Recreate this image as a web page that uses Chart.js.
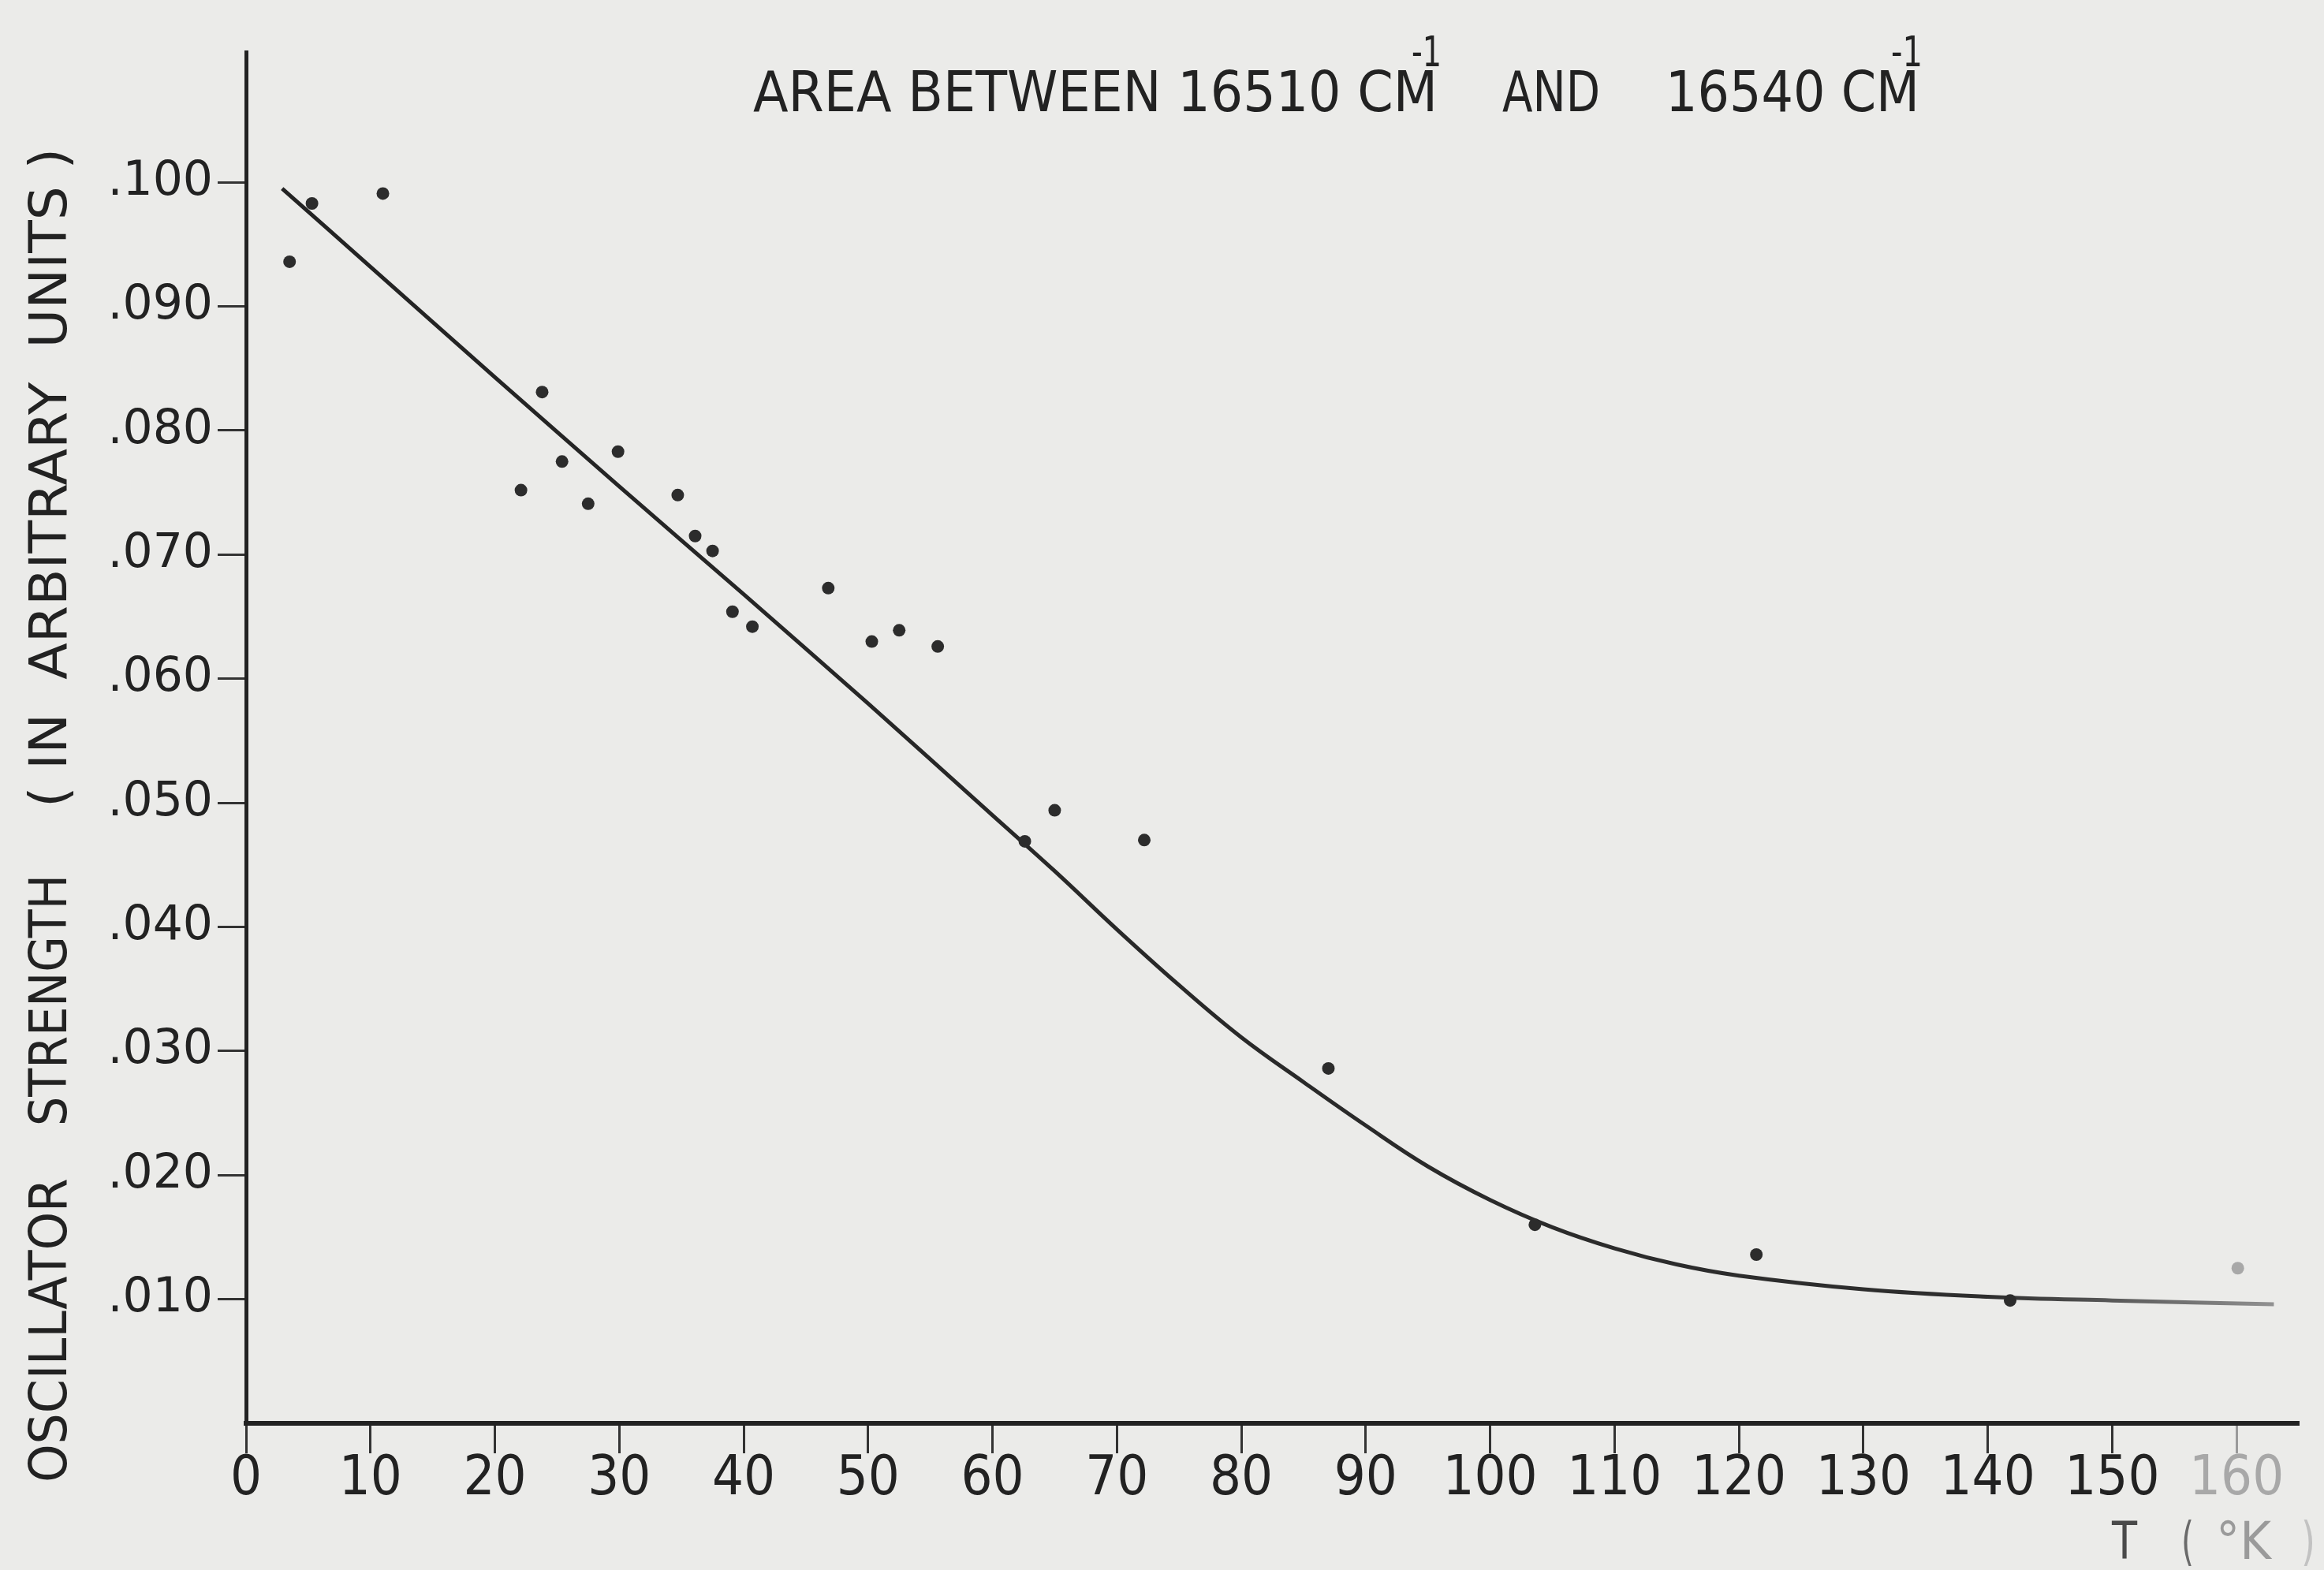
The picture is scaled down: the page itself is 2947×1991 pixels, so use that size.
<!DOCTYPE html>
<html><head><meta charset="utf-8">
<script src="https://cdn.jsdelivr.net/npm/chart.js@4.4.1/dist/chart.umd.min.js"></script>
<style>html,body{margin:0;padding:0;background:#ebebe9;overflow:hidden}#wrap{width:2947px;height:1991px}</style>
</head><body><div id="wrap"><canvas id="c" width="2947" height="1991"></canvas></div>
<script>
// Measured points: temperature (K) and oscillator strength (arbitrary units)
const temperatures = [3.5, 5.3, 11.0, 22.1, 23.8, 25.4, 27.5, 29.9, 34.7, 36.1, 37.5, 39.1, 40.7, 46.8, 50.3, 52.5, 55.6, 62.6, 65.0, 72.2, 87.0, 103.6, 121.4, 141.8, 160.1];
const strengths    = [0.0936, 0.0983, 0.0991, 0.0752, 0.0831, 0.0775, 0.0741, 0.0783, 0.0748, 0.0715, 0.0703, 0.0654, 0.0642, 0.0673, 0.0630, 0.0639, 0.0626, 0.0469, 0.0494, 0.0470, 0.0286, 0.0160, 0.0136, 0.0099, 0.0125];
// Hand-drawn fitted curve, read along its path
const curveT = [2.9, 10, 20, 30, 40, 50, 60, 65, 70, 75, 80, 85, 90, 95, 100, 105, 110, 115, 120, 130, 140, 150, 163];
const curveV = [0.0995, 0.0932, 0.0843, 0.0755, 0.0668, 0.0580, 0.0490, 0.0445, 0.0398, 0.0353, 0.0311, 0.0275, 0.0240, 0.0207, 0.0180, 0.0158, 0.0141, 0.0128, 0.0119, 0.0108, 0.0102, 0.0099, 0.0096];
// Tick labels
const xTicks = [0, 10, 20, 30, 40, 50, 60, 70, 80, 90, 100, 110, 120, 130, 140, 150, 160];
const yTicks = [0.010, 0.020, 0.030, 0.040, 0.050, 0.060, 0.070, 0.080, 0.090, 0.100];
const titleParts = ["AREA BETWEEN 16510 CM", "AND", "16540 CM"];
const superscript = "-1";
const yTitleParts = ["OSCILLATOR", "STRENGTH", "( IN  ARBITRARY  UNITS )"];
const xTitleParts = ["T", "(", "°K", ")"];

const INK = '#222222';

function fitText(ctx, text, x, y, w) {
  const m = ctx.measureText(text).width;
  ctx.save();
  ctx.translate(x, y);
  ctx.scale(w / m, 1);
  ctx.textAlign = 'left';
  ctx.fillText(text, 0, 0);
  ctx.restore();
}

const textPlugin = {
  id: 'texts',
  beforeDraw(chart) {
    const ctx = chart.ctx;
    ctx.save();
    ctx.fillStyle = '#ebebe9';
    ctx.fillRect(0, 0, chart.width, chart.height);
    ctx.restore();
  },
  afterDraw(chart) {
    const ctx = chart.ctx;
    ctx.save();
    ctx.fillStyle = INK;
    ctx.textBaseline = 'alphabetic';
    // title
    ctx.font = '72px "DejaVu Sans"';
    fitText(ctx, titleParts[0], 955, 141, 868);
    fitText(ctx, titleParts[1], 1905, 141, 124);
    fitText(ctx, titleParts[2], 2112, 141, 322);
    ctx.font = '54px "DejaVu Sans"';
    fitText(ctx, superscript, 1790, 84, 38);
    fitText(ctx, superscript, 2398, 84, 40);
    // y title (rotated)
    ctx.font = '66px "DejaVu Sans"';
    const segs = [[1880, 386], [1428, 319], [1024, 836]];
    yTitleParts.forEach((t, i) => {
      ctx.save();
      ctx.translate(84, segs[i][0]);
      ctx.rotate(-Math.PI / 2);
      fitText(ctx, t, 0, 0, segs[i][1]);
      ctx.restore();
    });
    // x title
    ctx.font = '66px "DejaVu Sans Condensed", "DejaVu Sans"';
    const xs = [[2678, 32, '#4a4a4a'], [2766, 16, '#6a6a6a'], [2810, 70, '#9a9a9a'], [2918, 18, '#c2c2c2']];
    xTitleParts.forEach((t, i) => {
      ctx.fillStyle = xs[i][2];
      fitText(ctx, t, xs[i][0], 1977, xs[i][1]);
    });
    ctx.restore();
  }
};

const points = temperatures.map((t, i) => ({x: t, y: strengths[i]}));
const curve = curveT.map((t, i) => ({x: t, y: curveV[i]}));

new Chart(document.getElementById('c'), {
  type: 'scatter',
  data: {
    datasets: [
      {
        data: curve,
        showLine: true,
        pointRadius: 0,
        borderWidth: 5,
        tension: 0.4,
        borderColor: (c) => {
          const a = c.chart.chartArea;
          if (!a) return INK;
          const g = c.chart.ctx.createLinearGradient(a.left, 0, a.right, 0);
          g.addColorStop(0, INK);
          g.addColorStop(0.85, '#2e2e2e');
          g.addColorStop(1, '#9a9a9a');
          return g;
        },
        order: 2
      },
      {
        data: points,
        showLine: false,
        pointRadius: 8,
        pointBorderWidth: 0,
        pointBackgroundColor: (c) => (c.raw && c.raw.x > 155) ? '#a8a8a8' : '#2c2c2c',
        order: 1
      }
    ]
  },
  options: {
    responsive: false,
    animation: false,
    devicePixelRatio: 1,
    layout: {padding: {left: 0, right: 32, top: 66, bottom: 0}},
    plugins: {legend: {display: false}, tooltip: {enabled: false}, title: {display: false}},
    scales: {
      x: {
        type: 'linear', min: 0, max: 165,
        afterBuildTicks: (s) => { s.ticks = xTicks.map(v => ({value: v})); },
        afterFit: (s) => { s.height = 186; },
        border: {display: true, color: INK, width: 6},
        grid: {drawOnChartArea: false, drawTicks: true, tickLength: 38, tickWidth: 3,
               tickColor: (c) => (c.tick && c.tick.value >= 160) ? '#9a9a9a' : '#333'},
        ticks: {
          padding: -8,
          font: {family: '"Liberation Sans Narrow", "DejaVu Sans Condensed", sans-serif', size: 70},
          color: (c) => (c.tick && c.tick.value >= 160) ? '#a8a8a8' : INK,
          callback: (v) => String(v)
        }
      },
      y: {
        type: 'linear', min: 0, max: 0.1105,
        afterBuildTicks: (s) => { s.ticks = yTicks.map(v => ({value: v})); },
        afterFit: (s) => { s.width = 312; },
        border: {display: true, color: INK, width: 5},
        grid: {drawOnChartArea: false, drawTicks: true, tickLength: 36, tickWidth: 3, tickColor: '#333'},
        ticks: {
          padding: 6,
          font: {family: '"DejaVu Sans", sans-serif', size: 60},
          color: INK,
          callback: (v) => '.' + String(Math.round(v * 1000)).padStart(3, '0')
        }
      }
    }
  },
  plugins: [textPlugin]
});
</script>
</body></html>
